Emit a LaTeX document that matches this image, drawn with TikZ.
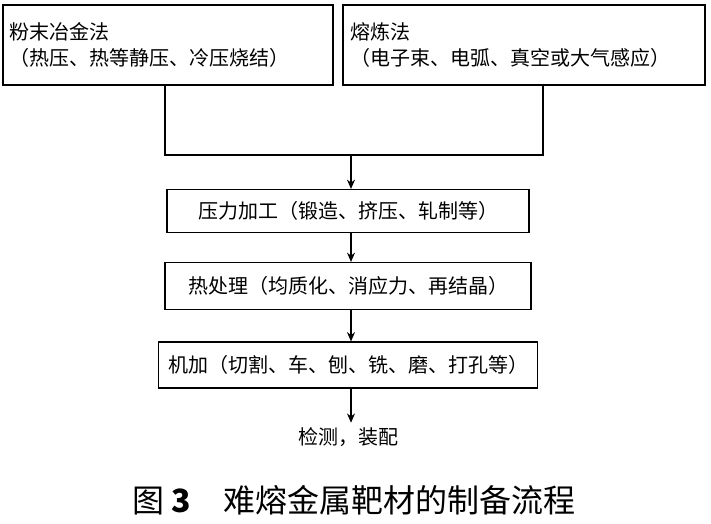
\documentclass[tikz,border=0pt]{standalone}
\usepackage{fontspec}
\newfontfamily\cjk{Noto Sans CJK SC}
\usetikzlibrary{arrows.meta}
\tikzset{
  stepbox/.style={draw, thick, inner sep=0pt, font=\cjk\fontsize{15}{19}\selectfont},
  flow/.style={thick, -{Stealth[length=7pt,width=6pt]}}
}
\begin{document}
\begin{tikzpicture}[x=0.75pt,y=-0.75pt]
        \useasboundingbox (0,0) rectangle (711,524);
        \node (pm) [stepbox, minimum width=330*0.75pt, minimum height=80*0.75pt, align=left, text width=316*0.75pt] at (168,45) {粉末冶金法\\（热压、热等静压、冷压烧结）};
        \node (ml) [stepbox, minimum width=362*0.75pt, minimum height=80*0.75pt, align=left, text width=348*0.75pt] at (524,45) {熔炼法\\（电子束、电弧、真空或大气感应）};
        \node (pw) [stepbox, minimum width=362*0.75pt, minimum height=43*0.75pt] at (348,211) {压力加工（锻造、挤压、轧制等）};
        \node (ht) [stepbox, minimum width=366*0.75pt, minimum height=47*0.75pt] at (348,286) {热处理（均质化、消应力、再结晶）};
        \node (mc) [stepbox, minimum width=379*0.75pt, minimum height=46*0.75pt] at (348,365) {机加（切割、车、刨、铣、磨、打孔等）};
        \node (ck) [font=\cjk\fontsize{15}{19}\selectfont] at (348,437) {检测，装配};
        \node (cap) [font=\cjk\fontsize{24}{28}\selectfont] at (354,500) {图 \textbf{3}\quad 难熔金属靶材的制备流程};
        \coordinate (jl) at (165,155);
        \coordinate (jr) at (543,155);
        \coordinate (jm) at (351,155);
        \draw [thick] (pm.south -| jl) -- (jl) -- (jr) -- (ml.south -| jr);
        \draw [flow] (jm) -- (pw.north -| jm);
        \draw [flow] (pw.south -| jm) -- (ht.north -| jm);
        \draw [flow] (ht.south -| jm) -- (mc.north -| jm);
        \draw [flow] (mc.south -| jm) -- (ck.north -| jm);
\end{tikzpicture}
\end{document}
